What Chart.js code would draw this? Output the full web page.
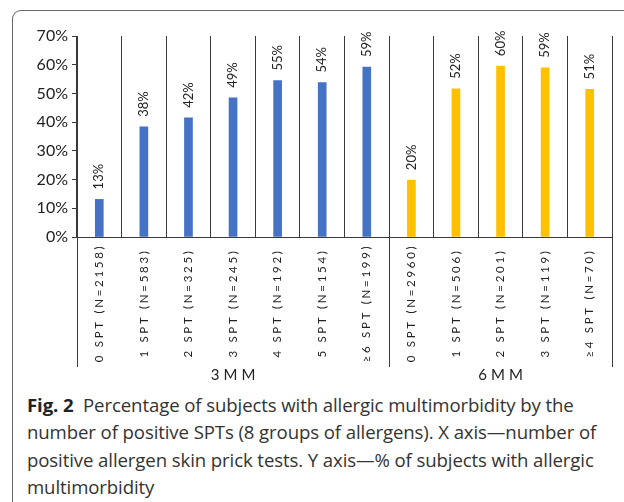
<!DOCTYPE html>
<html>
<head>
<meta charset="utf-8">
<script src="https://cdn.jsdelivr.net/npm/chart.js@4.4.1/dist/chart.umd.min.js"></script>
<style>
    html, body { margin: 0; padding: 0; background: #fff; }
    #wrap { position: relative; width: 624px; height: 502px; overflow: hidden; }
    #frame {
        position: absolute; left: 12px; top: 10px; width: 700px; height: 600px;
        border-top: 1px solid #666; border-left: 1px solid #666;
        border-top-left-radius: 9px;
    }
    #chart { position: absolute; left: 0; top: 0; }
    #caption {
        position: absolute; left: 27px; top: 391px;
        font-family: "Open Sans", sans-serif; font-size: 18.6px; line-height: 27.3px;
        color: #333; white-space: nowrap; letter-spacing: -0.1px;
    }
    #caption b { color: #222; }
</style>
</head>
<body>
<div id="wrap">
    <div id="frame"></div>
    <canvas id="chart" width="624" height="380"></canvas>
    <div id="caption">
        <b>Fig. 2</b>&nbsp; Percentage of subjects with allergic multimorbidity by the<br>
        number of positive SPTs (8 groups of allergens). X axis—number of<br>
        positive allergen skin prick tests. Y axis—% of subjects with allergic<br>
        multimorbidity
    </div>
</div>
<script>
// 数据
const categories = ['0 SPT (N=2158)', '1 SPT (N=583)', '2 SPT (N=325)', '3 SPT (N=245)', '4 SPT (N=192)', '5 SPT (N=154)', '≥6 SPT (N=199)',
                    '0 SPT (N=2960)', '1 SPT (N=506)', '2 SPT (N=201)', '3 SPT (N=119)', '≥4 SPT (N=70)'];
const groups = ['3MM', '6MM'];
const groupSizes = [7, 5];
const groupColors = ['#4472C4', '#FFC000'];
const percentValues = [13.1, 38.4, 41.5, 48.5, 54.5, 53.8, 59.2, 19.8, 51.6, 59.5, 58.9, 51.4];
const yMax = 70;
const yStep = 10;

const barColors = [];
groupSizes.forEach((n, g) => { for (let i = 0; i < n; i++) barColors.push(groupColors[g]); });

const textColor = '#222';
const lineColor = '#3a3a3a';

// 标签和分组线
const annotatePlugin = {
    id: 'annotate',
    afterDatasetsDraw(chart) {
        const ctx = chart.ctx;
        const meta = chart.getDatasetMeta(0);
        ctx.save();
        ctx.fillStyle = textColor;
        ctx.font = '13px Lato';
        ctx.textAlign = 'left';
        ctx.textBaseline = 'middle';
        meta.data.forEach((bar, i) => {
            ctx.save();
            ctx.translate(bar.x, bar.y - 10);
            ctx.rotate(-Math.PI / 2);
            ctx.fillText(Math.round(percentValues[i]) + '%', 0, 0);
            ctx.restore();
        });
        ctx.restore();
    },
    afterDraw(chart) {
        const ctx = chart.ctx;
        const xs = chart.scales.x;
        const bottom = chart.chartArea.bottom;
        ctx.save();
        // 分类标签（旋转）
        ctx.fillStyle = textColor;
        ctx.font = '11.5px Lato';
        ctx.letterSpacing = '2.7px';
        ctx.textAlign = 'center';
        ctx.textBaseline = 'middle';
        categories.forEach((c, i) => {
            ctx.save();
            ctx.translate(xs.getPixelForValue(i), bottom + 66);
            ctx.rotate(-Math.PI / 2);
            ctx.fillText(c, 0, 0);
            ctx.restore();
        });
        // 分组线
        const edges = [xs.left];
        let idx = 0;
        groupSizes.forEach(n => {
            idx += n;
            edges.push(idx < categories.length
                ? (xs.getPixelForValue(idx - 1) + xs.getPixelForValue(idx)) / 2
                : xs.right);
        });
        ctx.strokeStyle = lineColor;
        ctx.lineWidth = 1;
        edges.forEach(x => {
            const px = Math.round(x) + 0.5;
            ctx.beginPath();
            ctx.moveTo(px, bottom);
            ctx.lineTo(px, bottom + 130);
            ctx.stroke();
        });
        // 分组名称
        ctx.font = '15px Lato';
        ctx.letterSpacing = '4px';
        groups.forEach((g, i) => {
            ctx.fillText(g, (edges[i] + edges[i + 1]) / 2 + 2, bottom + 138);
        });
        ctx.restore();
    }
};

const ctx = document.getElementById('chart').getContext('2d');
new Chart(ctx, {
    type: 'bar',
    data: {
        labels: categories,
        datasets: [{
            data: percentValues,
            backgroundColor: barColors,
            barThickness: 8
        }]
    },
    options: {
        responsive: false,
        animation: false,
        layout: { padding: { left: 0, right: 12, top: 36, bottom: 10 } },
        plugins: {
            legend: { display: false },
            tooltip: { enabled: false }
        },
        scales: {
            x: {
                grid: { offset: true, drawTicks: false, color: lineColor, lineWidth: 1 },
                border: { display: true, color: lineColor },
                ticks: { display: false },
                afterFit: (scale) => { scale.height = 133; }
            },
            y: {
                min: 0,
                max: yMax,
                ticks: {
                    stepSize: yStep,
                    color: textColor,
                    padding: 4,
                    font: { family: 'Lato', size: 16 },
                    callback: (v) => v + '%'
                },
                grid: { drawOnChartArea: false, drawTicks: true, tickLength: 5, color: lineColor },
                border: { display: true, color: lineColor },
                afterFit: (scale) => { scale.width = 77; }
            }
        }
    },
    plugins: [annotatePlugin]
});
</script>
</body>
</html>
